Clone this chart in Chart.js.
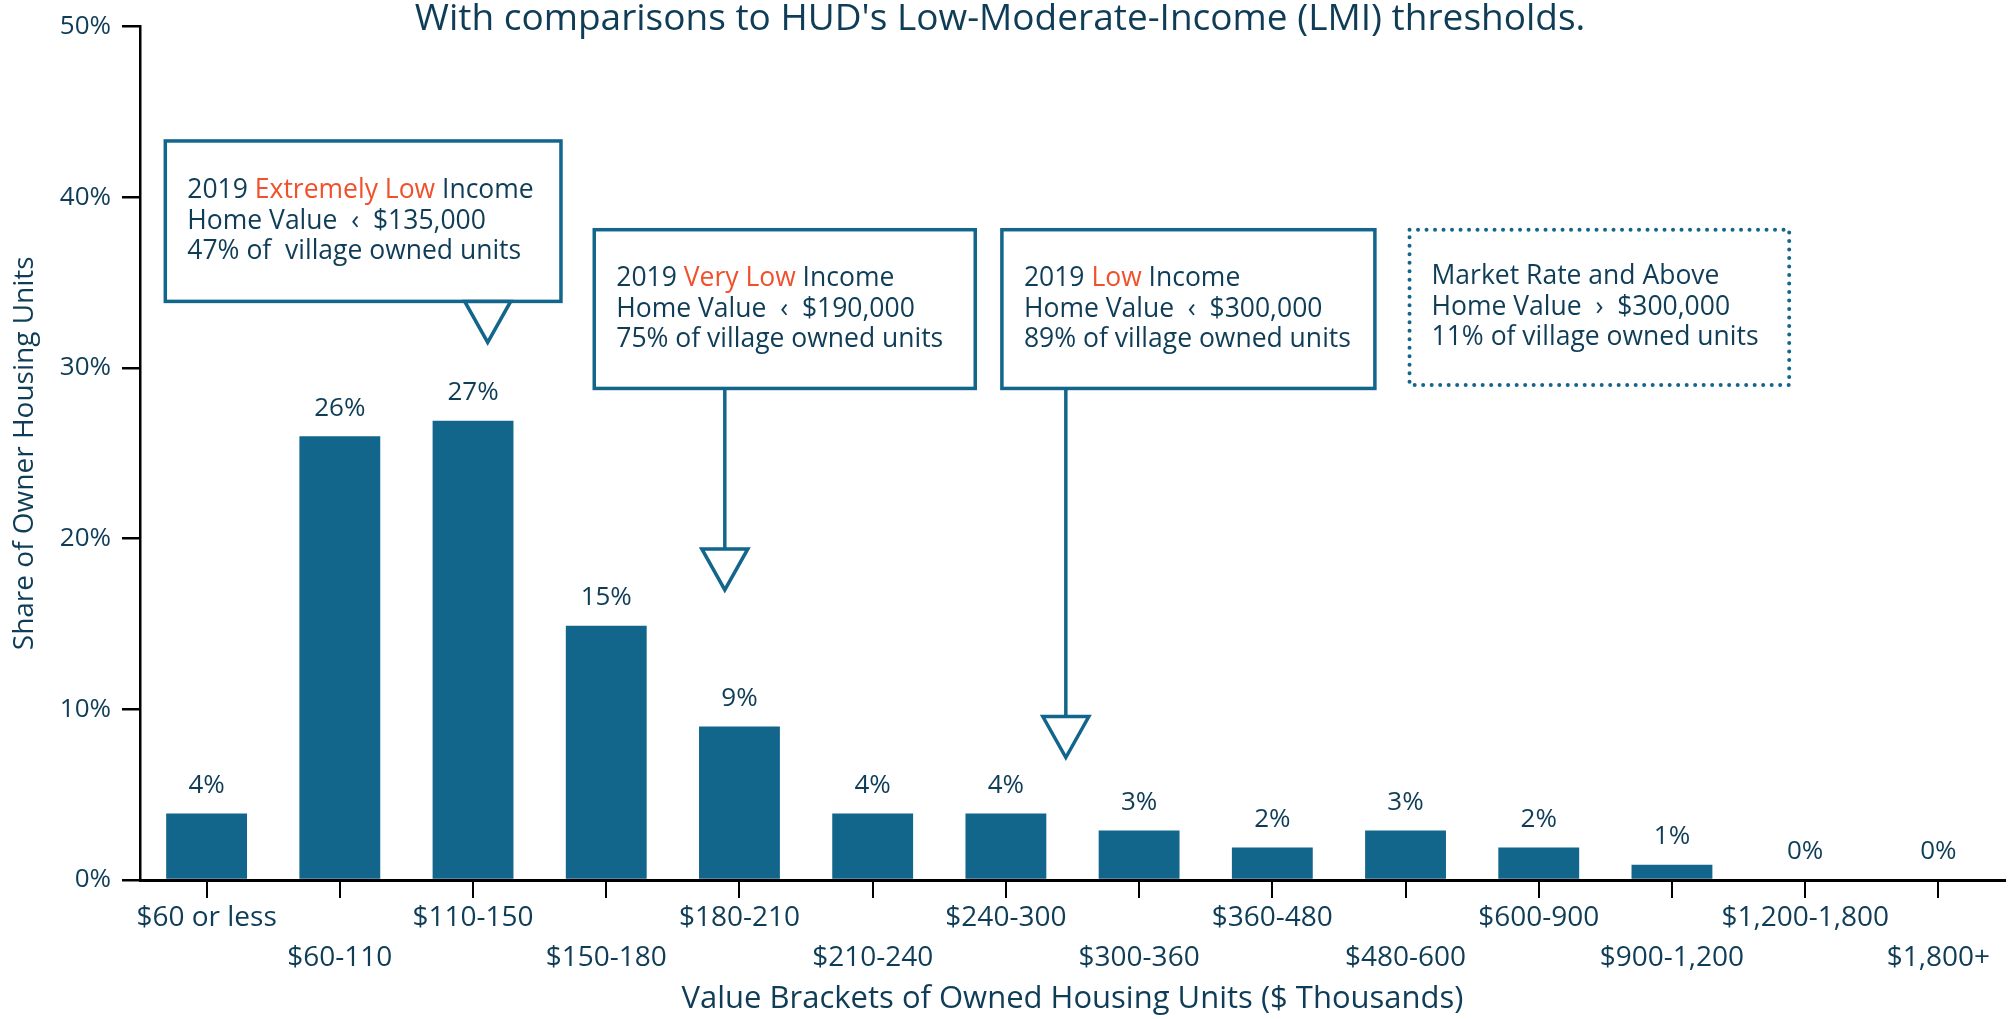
<!DOCTYPE html>
<html>
<head>
<meta charset="utf-8">
<script src="https://cdn.jsdelivr.net/npm/chart.js@4.4.1/dist/chart.umd.min.js"></script>
<style>
  html, body { margin: 0; padding: 0; background: #fff; }
  #wrap { width: 2011px; height: 1019px; }
</style>
</head>
<body>
<div id="wrap"><canvas id="myChart" width="2011" height="1019"></canvas></div>
<script>
// data
const brackets = ['$60 or less', '$60-110', '$110-150', '$150-180', '$180-210', '$210-240', '$240-300',
  '$300-360', '$360-480', '$480-600', '$600-900', '$900-1,200', '$1,200-1,800', '$1,800+'];
const shareOfUnits = [3.9, 26, 26.9, 14.9, 9, 3.9, 3.9, 2.9, 1.9, 2.9, 1.9, 0.9, 0, 0];
const yTicks = [0, 10, 20, 30, 40, 50];

const titleText = "With comparisons to HUD's Low-Moderate-Income (LMI) thresholds.";
const xTitle = 'Value Brackets of Owned Housing Units ($ Thousands)';
const yTitle = 'Share of Owner Housing Units';

const FONT = "'Open Sans', sans-serif";
const DARK = '#0f3d57';
const BLUE = '#12658b';
const ORANGE = '#f0512c';

// callout boxes, in category / percent units
const callouts = [
  { x0: -0.31, x1: 2.66, y0: 43.3, y1: 33.9, dotted: false,
    lines: [[['2019 ', DARK], ['Extremely Low', ORANGE], [' Income', DARK]],
            [['Home Value  \u2039  $135,000', DARK]],
            [['47% of  village owned units', DARK]]],
    pointer: { x: 2.11, top: 33.9 } },
  { x0: 2.91, x1: 5.77, y0: 38.1, y1: 28.8, dotted: false,
    lines: [[['2019 ', DARK], ['Very Low', ORANGE], [' Income', DARK]],
            [['Home Value  \u2039  $190,000', DARK]],
            [['75% of village owned units', DARK]]],
    pointer: { x: 3.89, top: 19.4 } },
  { x0: 5.97, x1: 8.77, y0: 38.1, y1: 28.8, dotted: false,
    lines: [[['2019 ', DARK], ['Low', ORANGE], [' Income', DARK]],
            [['Home Value  \u2039  $300,000', DARK]],
            [['89% of village owned units', DARK]]],
    pointer: { x: 6.45, top: 9.58 } },
  { x0: 9.03, x1: 11.88, y0: 38.1, y1: 29.0, dotted: true,
    lines: [[['Market Rate and Above', DARK]],
            [['Home Value  \u203a  $300,000', DARK]],
            [['11% of village owned units', DARK]]] }
];

const annotations = {
  id: 'annotations',
  afterDatasetsDraw(chart) {
    const { ctx, scales: { x, y } } = chart;
    ctx.save();

    // title
    ctx.font = '37px ' + FONT;
    ctx.fillStyle = DARK;
    ctx.textAlign = 'center';
    ctx.textBaseline = 'middle';
    ctx.fillText(titleText, 1000, 19);

    // value labels over bars
    ctx.font = '26px ' + FONT;
    shareOfUnits.forEach((v, i) => {
      ctx.fillText(Math.round(v) + '%', x.getPixelForValue(i), y.getPixelForValue(v) - 28);
    });

    // callouts
    callouts.forEach(c => {
      const left = x.getPixelForValue(c.x0), right = x.getPixelForValue(c.x1);
      const top = y.getPixelForValue(c.y0), bottom = y.getPixelForValue(c.y1);
      ctx.strokeStyle = BLUE;
      if (c.dotted) {
        ctx.lineWidth = 4;
        ctx.lineCap = 'round';
        ctx.setLineDash([0, 8.5]);
      } else {
        ctx.lineWidth = 3.5;
        ctx.lineCap = 'butt';
        ctx.setLineDash([]);
      }
      ctx.strokeRect(left, top, right - left, bottom - top);
      ctx.setLineDash([]);

      if (c.pointer) {
        const px = x.getPixelForValue(c.pointer.x);
        const triTop = y.getPixelForValue(c.pointer.top);
        ctx.lineWidth = 3.5;
        ctx.lineCap = 'butt';
        if (triTop > bottom + 1) {
          ctx.beginPath();
          ctx.moveTo(px, bottom);
          ctx.lineTo(px, triTop);
          ctx.stroke();
        }
        ctx.beginPath();
        ctx.moveTo(px - 23, triTop);
        ctx.lineTo(px + 23, triTop);
        ctx.lineTo(px, triTop + 41);
        ctx.closePath();
        ctx.fillStyle = '#fff';
        ctx.fill();
        ctx.stroke();
      }

      // text
      ctx.font = '26.5px ' + FONT;
      ctx.textAlign = 'left';
      ctx.textBaseline = 'middle';
      const lh = 30.5;
      const mid = (top + bottom) / 2;
      c.lines.forEach((segs, li) => {
        let tx = left + 22;
        const ty = mid + (li - 1) * lh;
        segs.forEach(([t, col]) => {
          ctx.fillStyle = col;
          ctx.fillText(t, tx, ty);
          tx += ctx.measureText(t).width;
        });
      });
    });
    ctx.restore();
  }
};

new Chart(document.getElementById('myChart'), {
  type: 'bar',
  data: {
    labels: brackets,
    datasets: [{
      data: shareOfUnits,
      backgroundColor: BLUE,
      borderWidth: 0,
      categoryPercentage: 1,
      barPercentage: 0.607
    }]
  },
  options: {
    responsive: false,
    animation: false,
    layout: { padding: { top: 23, right: 6, left: 0, bottom: 0 } },
    plugins: { legend: { display: false }, tooltip: { enabled: false } },
    scales: {
      x: {
        afterFit(scale) { scale.height = 139; },
        grid: { drawOnChartArea: false, offset: false, tickLength: 18, color: '#000', lineWidth: 2 },
        border: { color: '#000', width: 3 },
        ticks: {
          autoSkip: false, maxRotation: 0, padding: 0, color: DARK,
          font: { family: FONT, size: 28, lineHeight: '40px' },
          callback: (v, i) => i % 2 === 0 ? brackets[i] : ['', brackets[i]]
        },
        title: { display: true, text: xTitle, color: DARK, font: { family: FONT, size: 31 }, padding: { bottom: 1 } }
      },
      y: {
        min: 0, max: 50,
        afterFit(scale) { scale.width = 140; },
        afterBuildTicks(scale) { scale.ticks = yTicks.map(v => ({ value: v })); },
        grid: { drawOnChartArea: false, tickLength: 18, color: '#000', lineWidth: 2.5 },
        border: { color: '#000', width: 2.5 },
        ticks: { padding: 11, color: DARK, font: { family: FONT, size: 26 }, callback: v => v + '%' },
        title: { display: true, text: yTitle, color: DARK, font: { family: FONT, size: 28 }, padding: { top: 8 } }
      }
    }
  },
  plugins: [annotations]
});
</script>
</body>
</html>
